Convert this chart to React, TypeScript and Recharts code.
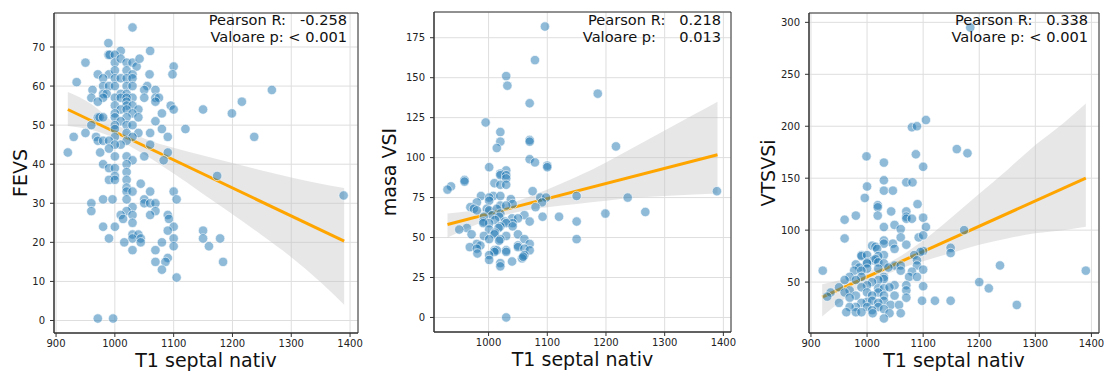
import {
  Area,
  CartesianGrid,
  ComposedChart,
  Line,
  ReferenceArea,
  Scatter,
  XAxis,
  YAxis,
} from 'recharts'

// T1 septal nativ vs FEVS
const fevsPoints: [number, number][] = [
  [1030, 75], [989, 71], [989, 68], [991, 68], [1010, 69], [1060, 69], [950, 66], [971, 63], [990, 63],
  [1000, 68], [1000, 66], [1000, 64], [1010, 67], [1020, 66], [1030, 66], [1037, 65], [1042, 67],
  [1020, 64], [1030, 63], [1059, 63], [1100, 65], [1098, 63], [935, 61], [980, 62], [1000, 62],
  [1010, 62], [1020, 62], [1030, 62], [962, 59], [980, 60], [990, 60], [1000, 60], [1020, 60],
  [1030, 60], [1055, 60], [1050, 59], [1069, 59], [1010, 58], [1020, 58], [980, 58], [986, 58],
  [1030, 57], [960, 57], [980, 57], [1000, 57], [1010, 57], [1020, 57], [1050, 57], [1069, 57],
  [1075, 57], [971, 56], [1069, 56], [1020, 56], [1216, 56], [1267, 59], [1000, 55], [1020, 55],
  [1030, 55], [1095, 55], [1010, 54], [1020, 54], [1040, 54], [1100, 54], [1150, 54], [1199, 53],
  [1000, 53], [1030, 53], [1080, 53], [971, 52], [974, 52], [980, 52], [1000, 52], [1020, 52],
  [1040, 52], [1010, 51], [1069, 51], [960, 50], [1000, 50], [1020, 50], [1030, 50], [1080, 49],
  [1120, 49], [1000, 49], [950, 48], [1020, 48], [1040, 48], [1060, 48], [930, 47], [968, 47],
  [1000, 47], [1030, 47], [1090, 47], [1237, 47], [971, 46], [980, 46], [990, 46], [1020, 46],
  [1010, 45], [1000, 45], [1060, 45], [920, 43], [975, 43], [1090, 43], [990, 44], [1000, 42],
  [1020, 42], [1050, 42], [1030, 41], [1083, 41], [980, 40], [1020, 40], [990, 39], [1000, 39],
  [1020, 38], [1174, 37], [1000, 37], [1020, 36], [990, 36], [1000, 36], [1044, 35], [1020, 34],
  [1020, 33], [1030, 33], [1060, 33], [1100, 33], [960, 30], [980, 31], [996, 31], [1020, 31],
  [1050, 31], [1050, 30], [1060, 30], [1069, 30], [1105, 31], [1389, 32], [1030, 29], [960, 28],
  [1020, 28], [1069, 28], [1010, 27], [1060, 27], [1030, 27], [1090, 27], [1014, 26], [1092, 26],
  [1030, 25], [980, 24], [1000, 24], [1100, 24], [1090, 23], [1150, 23], [1030, 22], [1040, 22],
  [990, 21], [1030, 21], [1044, 21], [1100, 21], [1150, 21], [1179, 21], [1016, 20], [1044, 20],
  [1080, 20], [1160, 19], [1100, 19], [1030, 18], [1069, 18], [1090, 16], [1069, 15], [1086, 15],
  [1184, 15], [1080, 13], [1105, 11], [971, 0.5], [997, 0.5],
]
const fevsFit: [number, number][] = [[920, 54.0], [1390, 20.3]]
const fevsBand: [number, number, number][] = [
  [920, 49.8, 58.5], [960, 48.8, 55.4], [1000, 46.6, 50.4], [1050, 42.5, 46.6], [1100, 37.6, 44.2],
  [1150, 32.4, 42.2], [1200, 27.2, 40.3], [1250, 21.8, 38.4], [1300, 16.2, 36.6], [1350, 9.8, 35.0],
  [1390, 4.0, 33.9],
]

// T1 septal nativ vs masa VSI
const masaPoints: [number, number][] = [
  [1096, 182], [1079, 161], [1030, 151], [1032, 145], [1186, 140], [1070, 134], [995, 122], [1020, 116],
  [1020, 110], [1070, 111], [1070, 110], [1014, 106], [1217, 107], [1070, 99], [1079, 97], [1001, 94],
  [1100, 95], [1100, 94], [1030, 92], [1020, 90], [1020, 89], [1030, 89], [1030, 87], [959, 86],
  [959, 85], [1010, 84], [1020, 83], [1030, 83], [936, 82], [930, 80], [1389, 79], [1075, 79],
  [987, 76], [1008, 76], [1020, 76], [1150, 76], [1001, 75], [1237, 75], [1088, 75], [1098, 75],
  [1038, 74], [1001, 73], [980, 72], [1091, 72], [1041, 71], [1020, 70], [1030, 70], [1080, 69],
  [969, 69], [975, 68], [980, 67], [997, 68], [1001, 67], [1014, 68], [1267, 66], [1020, 65],
  [1199, 65], [1006, 64], [1061, 64], [992, 63], [1018, 63], [1120, 63], [1092, 63], [1040, 62],
  [1050, 62], [1011, 61], [991, 60], [1028, 60], [1070, 60], [1150, 60], [1001, 59], [1041, 59],
  [1030, 59], [991, 59], [1020, 57], [1041, 57], [1017, 56], [963, 56], [1001, 55], [950, 55],
  [1011, 53], [971, 52], [1050, 52], [1010, 52], [992, 51], [1030, 51], [1020, 49], [1001, 49],
  [1061, 49], [1150, 49], [1018, 48], [980, 46], [1070, 46], [986, 45], [968, 44], [1050, 45],
  [1050, 44], [980, 43], [1061, 43], [981, 40], [1010, 42], [1014, 42], [1030, 42], [1070, 42],
  [1010, 41], [1030, 41], [1001, 39], [1061, 39], [1001, 36], [1057, 37], [1059, 38], [1040, 35],
  [1020, 34], [1020, 32], [1030, 0],
]
const masaFit: [number, number][] = [[930, 58.2], [1390, 101.8]]
const masaBand: [number, number, number][] = [
  [930, 50.0, 65.0], [1000, 61.0, 68.5], [1050, 66.0, 73.0], [1100, 69.0, 80.0], [1150, 71.0, 88.0],
  [1200, 73.0, 97.0], [1250, 75.0, 107.0], [1300, 76.0, 117.0], [1350, 77.0, 127.0], [1390, 77.6, 135.0],
]

// T1 septal nativ vs VTSVSi
const vtsPoints: [number, number][] = [
  [1184, 295], [1105, 206], [1080, 199], [1089, 200], [1160, 178], [1179, 174], [1087, 173], [999, 171],
  [1030, 165], [1100, 161], [1030, 148], [1070, 146], [1081, 146], [1000, 142], [1030, 138], [1046, 138],
  [996, 131], [1090, 125], [1019, 124], [1019, 122], [1043, 118], [1070, 118], [980, 114], [1019, 114],
  [1070, 113], [1070, 111], [1080, 111], [1100, 112], [960, 110], [1049, 105], [1030, 103], [1105, 103],
  [1060, 101], [1173, 100], [960, 92], [1060, 93], [1092, 93], [1100, 95], [1030, 90], [1030, 87],
  [1009, 85], [1015, 84], [1046, 87], [1049, 82], [1018, 82], [1070, 86], [1149, 83], [1149, 78],
  [1100, 80], [1095, 79], [990, 76], [990, 75], [1000, 76], [1030, 76], [1020, 75], [1084, 76],
  [1011, 71], [1015, 72], [1000, 69], [1000, 68], [1020, 69], [1030, 68], [980, 67], [1049, 66],
  [1060, 66], [1237, 66], [986, 64], [1000, 63], [1020, 63], [1038, 64], [1089, 71], [1089, 66],
  [977, 61], [921, 61], [990, 61], [1060, 61], [1100, 62], [1390, 61], [1080, 60], [1030, 55],
  [1030, 53], [990, 55], [969, 55], [960, 52], [980, 52], [1020, 52], [1009, 50], [1075, 55],
  [1089, 55], [1200, 50], [1000, 47], [1049, 47], [1070, 47], [1217, 44], [1100, 46], [950, 45],
  [990, 45], [1020, 44], [1030, 44], [1040, 45], [969, 42], [1000, 40], [1020, 40], [1070, 42],
  [935, 40], [929, 36], [960, 40], [980, 37], [1009, 37], [1030, 37], [1049, 37], [1070, 35],
  [969, 35], [1000, 31], [1009, 32], [1030, 32], [1098, 32], [1121, 32], [1149, 32], [950, 30],
  [990, 30], [1020, 30], [1042, 28], [1057, 28], [1267, 28], [980, 26], [1000, 26], [1020, 26],
  [969, 26], [1030, 24], [1009, 23], [963, 21], [980, 21], [990, 21], [1010, 20], [1040, 20],
  [1060, 20], [1030, 15],
]
const vtsFit: [number, number][] = [[920, 35.6], [1390, 150.0]]
const vtsBand: [number, number, number][] = [
  [920, 17.0, 48.0], [960, 34.0, 53.0], [1000, 48.0, 60.0], [1050, 61.0, 72.0], [1100, 70.0, 90.0],
  [1150, 78.0, 112.0], [1200, 86.0, 135.0], [1250, 92.0, 158.0], [1300, 97.0, 182.0], [1350, 100.0, 203.0],
  [1390, 103.3, 222.0],
]

const FONT = '"DejaVu Sans", sans-serif'
const AXIS = '#333333'

interface PanelProps {
  left: number
  width: number
  top: number
  right: number
  yAxisWidth: number
  xAxisHeight: number
  yLabelX: number
  points: [number, number][]
  fit: [number, number][]
  band: [number, number, number][]
  xDomain: [number, number]
  yDomain: [number, number]
  xTicks: number[]
  yTicks: number[]
  yLabel: string
  stats: string[]
  statsRight: number
}

const Dot = (props: any) => {
  const { cx, cy } = props
  if (cx == null || cy == null) return null
  return (
    <circle
      cx={cx}
      cy={cy}
      r={4.7}
      fill="#1f77b4"
      fillOpacity={0.5}
      stroke="#ffffff"
      strokeWidth={0.6}
    />
  )
}

function Panel(p: PanelProps) {
  const height = 374
  const plotBottom = height - p.xAxisHeight
  const plotMidY = (p.top + plotBottom) / 2
  const plotMidX = p.yAxisWidth + (p.width - p.right - p.yAxisWidth) / 2
  const pts = p.points.map(([x, y]) => ({ x, y }))
  const fit = p.fit.map(([x, y]) => ({ x, y }))
  const band = p.band.map(([x, lo, hi]) => ({ x, range: [lo, hi] }))

  return (
    <div style={{ position: 'absolute', left: p.left, top: 0, width: p.width, height }}>
      <ComposedChart
        width={p.width}
        height={height}
        margin={{ top: p.top, right: p.right, bottom: 0, left: 0 }}
      >
        <CartesianGrid stroke="#dedede" />
        <XAxis
          type="number"
          dataKey="x"
          domain={p.xDomain}
          ticks={p.xTicks}
          allowDataOverflow
          height={p.xAxisHeight}
          stroke={AXIS}
          tickSize={4}
          tickMargin={3}
          tick={{ fontSize: 10, fill: '#222', fontFamily: FONT }}
          label={{
            content: () => (
              <text
                x={plotMidX}
                y={plotBottom + 34}
                textAnchor="middle"
                fontSize={19}
                fontFamily={FONT}
                fill="#111"
              >
                T1 septal nativ
              </text>
            ),
          }}
        />
        <YAxis
          type="number"
          dataKey="y"
          domain={p.yDomain}
          ticks={p.yTicks}
          allowDataOverflow
          width={p.yAxisWidth}
          stroke={AXIS}
          tickSize={4}
          tickMargin={5}
          tick={{ fontSize: 10, fill: '#222', fontFamily: FONT }}
          label={{
            content: () => (
              <text
                x={p.yLabelX}
                y={plotMidY}
                textAnchor="middle"
                dominantBaseline="central"
                transform={`rotate(-90, ${p.yLabelX}, ${plotMidY})`}
                fontSize={19}
                fontFamily={FONT}
                fill="#111"
              >
                {p.yLabel}
              </text>
            ),
          }}
        />
        <Scatter data={pts} dataKey="y" shape={Dot} isAnimationActive={false} />
        <Area
          data={band}
          dataKey="range"
          type="monotone"
          stroke="none"
          fill="#c4c4c4"
          fillOpacity={0.4}
          isAnimationActive={false}
        />
        <Line
          data={fit}
          dataKey="y"
          type="linear"
          stroke="#ffa500"
          strokeWidth={3}
          dot={false}
          activeDot={false}
          isAnimationActive={false}
        />
        <ReferenceArea
          x1={p.xDomain[0]}
          x2={p.xDomain[1]}
          y1={p.yDomain[0]}
          y2={p.yDomain[1]}
          fill="none"
          stroke={AXIS}
          strokeWidth={1}
        />
      </ComposedChart>
      <div
        style={{
          position: 'absolute',
          right: p.statsRight,
          top: 12,
          textAlign: 'right',
          whiteSpace: 'pre',
          fontFamily: FONT,
          fontSize: 14.6,
          lineHeight: '16.5px',
          color: '#111',
        }}
      >
        {p.stats.map((s) => (
          <div key={s}>{s}</div>
        ))}
      </div>
    </div>
  )
}

export default function App() {
  return (
    <div style={{ position: 'absolute', left: 0, top: 0, width: 1104, height: 374, background: '#fff' }}>
      <Panel
        left={0}
        width={370}
        top={13}
        right={12}
        yAxisWidth={54}
        xAxisHeight={41}
        yLabelX={19.5}
        points={fevsPoints}
        fit={fevsFit}
        band={fevsBand}
        xDomain={[896.5, 1413.5]}
        yDomain={[-3.2, 78.7]}
        xTicks={[900, 1000, 1100, 1200, 1300, 1400]}
        yTicks={[0, 10, 20, 30, 40, 50, 60, 70]}
        yLabel="FEVS"
        stats={['Pearson R:   -0.258', 'Valoare p: < 0.001']}
        statsRight={23}
      />
      <Panel
        left={370}
        width={370}
        top={12}
        right={9}
        yAxisWidth={64}
        xAxisHeight={42}
        yLabelX={19}
        points={masaPoints}
        fit={masaFit}
        band={masaBand}
        xDomain={[907, 1413]}
        yDomain={[-9.1, 191.1]}
        xTicks={[1000, 1100, 1200, 1300, 1400]}
        yTicks={[0, 25, 50, 75, 100, 125, 150, 175]}
        yLabel="masa VSI"
        stats={['Pearson R:   0.218', 'Valoare p:     0.013']}
        statsRight={19}
      />
      <Panel
        left={740}
        width={364}
        top={13}
        right={5}
        yAxisWidth={69}
        xAxisHeight={41}
        yLabelX={28}
        points={vtsPoints}
        fit={vtsFit}
        band={vtsBand}
        xDomain={[896.5, 1413.5]}
        yDomain={[1, 309]}
        xTicks={[900, 1000, 1100, 1200, 1300, 1400]}
        yTicks={[50, 100, 150, 200, 250, 300]}
        yLabel="VTSVSi"
        stats={['Pearson R:   0.338', 'Valoare p: < 0.001']}
        statsRight={16}
      />
    </div>
  )
}
